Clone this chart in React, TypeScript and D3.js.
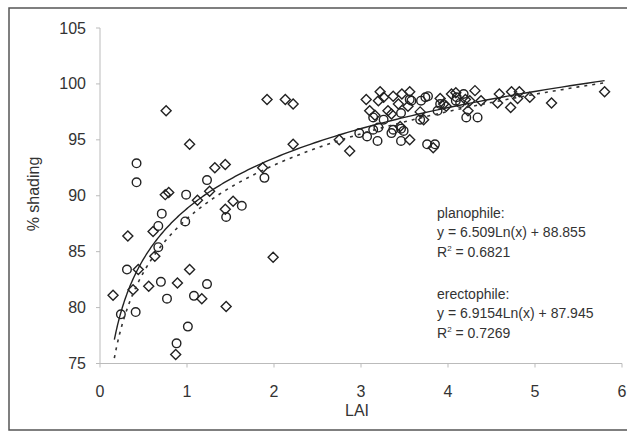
import React from "react";
import * as d3 from "d3";

const W = 627;
const H = 432;

const xTicks = [0, 1, 2, 3, 4, 5, 6];
const yTicks = [75, 80, 85, 90, 95, 100, 105];

// circles series [LAI, % shading]
const circleX = [0.24, 0.31, 0.42, 0.42, 0.41, 0.67, 0.67, 0.71, 0.70, 0.77, 0.88, 1.01, 0.99, 0.98, 1.08, 1.23, 1.23, 1.45, 1.63, 1.89,
  2.98, 3.07, 3.14, 3.14, 3.20, 3.19, 3.26, 3.35, 3.37, 3.46, 3.49, 3.46, 3.46, 3.56, 3.58, 3.69, 3.74, 3.77, 3.76, 3.85,
  3.88, 3.91, 4.09, 4.10, 4.18, 4.14, 4.21, 4.34, 3.68];
const circleY = [79.4, 83.4, 92.9, 91.2, 79.6, 85.4, 87.3, 88.4, 82.3, 80.8, 76.8, 78.3, 90.1, 87.7, 81.05, 91.4, 82.1, 88.1, 89.1, 91.6,
  95.6, 95.3, 97.0, 95.9, 96.1, 94.9, 96.8, 95.6, 95.9, 96.0, 95.8, 94.9, 97.4, 98.6, 98.5, 98.5, 98.8, 98.9, 94.6, 94.6,
  97.6, 98.2, 98.5, 98.8, 99.1, 98.3, 97.0, 97.0, 96.8];

// diamonds series [LAI, % shading]
const diamondX = [0.15, 0.32, 0.38, 0.44, 0.56, 0.61, 0.63, 0.75, 0.79, 0.76, 0.89, 0.87, 1.03, 1.03, 1.17, 1.12, 1.26, 1.32, 1.44, 1.53,
  1.44, 1.45, 1.87, 1.92, 2.13, 2.22, 2.22, 1.99, 2.75, 2.87, 3.06, 3.22, 3.20, 3.26, 3.37, 3.47, 3.56, 3.54, 3.43, 3.31,
  3.10, 3.16, 3.35, 3.45, 3.68, 3.72, 3.56, 3.83, 3.91, 3.95, 4.04, 4.09, 4.20, 4.25, 4.23, 4.31, 4.38, 3.98, 4.59, 4.57,
  4.73, 4.72, 4.82, 4.80, 4.94, 5.19, 5.80];
const diamondY = [81.1, 86.4, 81.6, 83.4, 81.9, 86.8, 84.6, 90.1, 90.3, 97.6, 82.2, 75.8, 94.6, 83.4, 80.8, 89.6, 90.4, 92.5, 92.8, 89.5,
  88.8, 80.1, 92.5, 98.6, 98.6, 98.2, 94.6, 84.5, 95.0, 94.0, 98.6, 99.3, 98.5, 98.8, 98.9, 99.1, 99.3, 98.0, 98.2, 97.6,
  97.6, 97.2, 97.3, 96.2, 97.5, 96.8, 95.0, 94.3, 98.7, 98.2, 99.1, 99.2, 98.6, 98.5, 97.6, 99.4, 98.5, 98.0, 99.1, 98.3,
  99.3, 97.9, 99.3, 98.7, 98.8, 98.3, 99.3];

// trend lines y = a ln(x) + b
const planoA = 6.509, planoB = 88.855;
const erectA = 6.9154, erectB = 87.945;
const fitRange = [0.165, 5.8];

const annotation = [
  "planophile:",
  "y = 6.509Ln(x) + 88.855",
  "R2 = 0.6821",
  "",
  "erectophile:",
  "y = 6.9154Ln(x) + 87.945",
  "R2 = 0.7269",
];

export default function App() {
  const x = d3.scaleLinear().domain([0, 6]).range([100, 622]);
  const y = d3.scaleLinear().domain([75, 105]).range([363.5, 28]);

  const xs = d3.range(0, 201).map((i) => fitRange[0] * Math.pow(fitRange[1] / fitRange[0], i / 200));
  const line = d3.line<number[]>().x((d) => x(d[0])).y((d) => y(d[1]));
  const plano = line(xs.map((v) => [v, planoA * Math.log(v) + planoB]))!;
  const erect = line(xs.map((v) => [v, erectA * Math.log(v) + erectB]))!;

  const font = "'Liberation Sans', Arial, sans-serif";
  const ds = 5;
  const diamondPath = (cx: number, cy: number) =>
    `M${cx},${cy - ds}L${cx + ds},${cy}L${cx},${cy + ds}L${cx - ds},${cy}Z`;

  const annLines = [
    { t: annotation[0], yy: 218 },
    { t: annotation[1], yy: 237 },
    { t: annotation[2], yy: 257 },
    { t: annotation[4], yy: 299 },
    { t: annotation[5], yy: 318 },
    { t: annotation[6], yy: 338 },
  ];

  return (
    <div style={{ position: "absolute", left: 0, top: 0 }}>
      <svg width={W} height={H} style={{ display: "block", background: "#fff" }} fontFamily={font}>
        <rect x={9} y={8} width={W + 10} height={H - 10} fill="none" stroke="#555" strokeWidth={1.5} />
        {/* axes */}
        <line x1={x(0)} x2={x(0)} y1={y(105)} y2={y(75)} stroke="#bbb" strokeWidth={1} />
        <line x1={x(0)} x2={x(6)} y1={y(75)} y2={y(75)} stroke="#bbb" strokeWidth={1} />
        {yTicks.map((t) => (
          <g key={"y" + t}>
            <line x1={x(0) - 4} x2={x(0)} y1={y(t)} y2={y(t)} stroke="#bbb" />
            <text x={86} y={y(t) + 5.5} textAnchor="end" fontSize={16} fill="#333">
              {t}
            </text>
          </g>
        ))}
        {xTicks.map((t) => (
          <g key={"x" + t}>
            <line x1={x(t)} x2={x(t)} y1={y(75)} y2={y(75) + 4} stroke="#bbb" />
            <text x={x(t)} y={397} textAnchor="middle" fontSize={16} fill="#333">
              {t}
            </text>
          </g>
        ))}
        <text x={357} y={416} textAnchor="middle" fontSize={16} fill="#333">LAI</text>
        <text transform={`translate(39,194) rotate(-90)`} textAnchor="middle" fontSize={16} fill="#333">
          % shading
        </text>
        {/* points */}
        {circleX.map((cx, i) => (
          <circle key={"c" + i} cx={x(cx)} cy={y(circleY[i])} r={4.3} fill="none" stroke="#222" strokeWidth={1.4} />
        ))}
        {diamondX.map((dx, i) => (
          <path key={"d" + i} d={diamondPath(x(dx), y(diamondY[i]))} fill="none" stroke="#222" strokeWidth={1.4} />
        ))}
        {/* trend lines */}
        <path d={plano} fill="none" stroke="#222" strokeWidth={1.4} />
        <path d={erect} fill="none" stroke="#333" strokeWidth={1.6} strokeDasharray="3,5" />
        {/* annotation */}
        {annLines.map((l, i) => {
          if (l.t.startsWith("R2")) {
            return (
              <text key={"a" + i} x={437} y={l.yy} fontSize={14} fill="#333">
                R<tspan fontSize={8} dy={-6}>2</tspan>
                <tspan dy={6}>{l.t.slice(2)}</tspan>
              </text>
            );
          }
          return (
            <text key={"a" + i} x={437} y={l.yy} fontSize={14} fill="#333">
              {l.t}
            </text>
          );
        })}
      </svg>
    </div>
  );
}
